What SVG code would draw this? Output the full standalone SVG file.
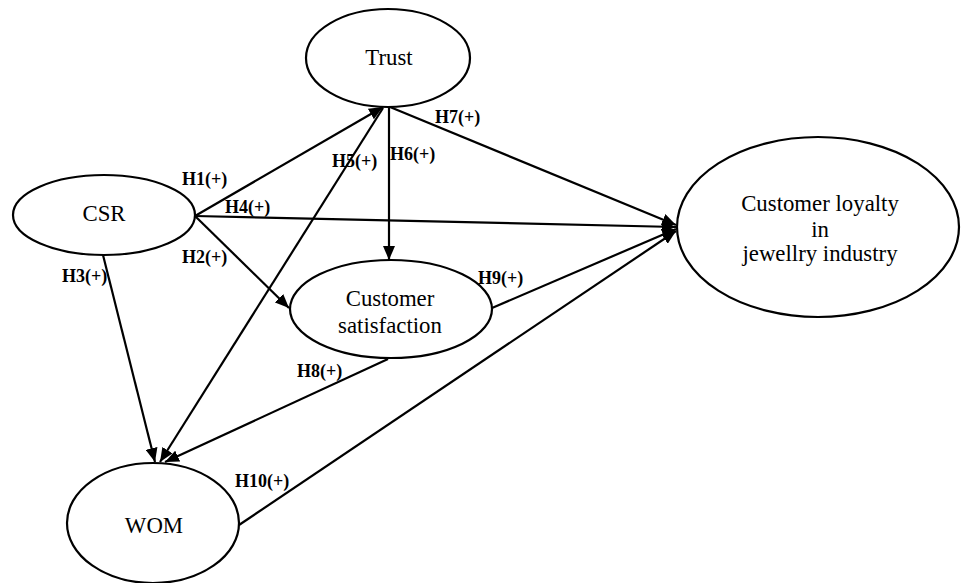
<svg xmlns="http://www.w3.org/2000/svg" width="962" height="583" viewBox="0 0 962 583">
<style>
.node{fill:#fff;stroke:#000;stroke-width:2.2}
.nt{font-family:"Liberation Serif","Times New Roman",serif;font-size:22.8px;fill:#000;text-anchor:middle}
.edge{stroke:#000;stroke-width:2.2;fill:none}
.lbl{font-family:"Liberation Serif","Times New Roman",serif;font-size:18px;font-weight:bold;fill:#000}
</style>
<defs>
<marker id="ah" markerUnits="userSpaceOnUse" markerWidth="15" markerHeight="12" refX="14" refY="6" orient="auto">
<path d="M0,0 L14,6 L0,12 z" fill="#000"/>
</marker>
</defs>
<g id="connectors">
<line class="edge" x1="195" y1="216" x2="383" y2="107" marker-end="url(#ah)"/>
<line class="edge" x1="195" y1="216" x2="676" y2="227" marker-end="url(#ah)"/>
<line class="edge" x1="195" y1="216" x2="289" y2="308" marker-end="url(#ah)"/>
<line class="edge" x1="103" y1="255" x2="155" y2="462" marker-end="url(#ah)"/>
<line class="edge" x1="383" y1="108" x2="160" y2="462" marker-end="url(#ah)"/>
<line class="edge" x1="389" y1="107" x2="389" y2="260" marker-end="url(#ah)"/>
<line class="edge" x1="390" y1="107" x2="676" y2="225" marker-end="url(#ah)"/>
<line class="edge" x1="388" y1="359" x2="165" y2="462" marker-end="url(#ah)"/>
<line class="edge" x1="492" y1="308" x2="676" y2="229" marker-end="url(#ah)"/>
<line class="edge" x1="239" y1="525" x2="676" y2="231" marker-end="url(#ah)"/>
<text class="lbl" x="182" y="185">H1(+)</text>
<text class="lbl" x="225" y="213">H4(+)</text>
<text class="lbl" x="182" y="263">H2(+)</text>
<text class="lbl" x="62" y="282">H3(+)</text>
<text class="lbl" x="332" y="167">H5(+)</text>
<text class="lbl" x="390" y="160">H6(+)</text>
<text class="lbl" x="435" y="123">H7(+)</text>
<text class="lbl" x="297" y="377">H8(+)</text>
<text class="lbl" x="478" y="284">H9(+)</text>
<text class="lbl" x="235" y="487">H10(+)</text>
</g>
<g id="trust">
<ellipse class="node" cx="388" cy="58" rx="82" ry="49"/>
<text class="nt" x="389" y="65">Trust</text>
</g>
<g id="csr">
<ellipse class="node" cx="104" cy="215" rx="91" ry="40"/>
<text class="nt" x="104" y="221">CSR</text>
</g>
<g id="satisfaction">
<ellipse class="node" cx="391" cy="309" rx="101" ry="49"/>
<text class="nt" x="390" y="306">Customer</text>
<text class="nt" x="390" y="333">satisfaction</text>
</g>
<g id="wom">
<ellipse class="node" cx="153" cy="523" rx="86" ry="60"/>
<text class="nt" x="154" y="533">WOM</text>
</g>
<g id="loyalty">
<ellipse class="node" cx="818" cy="227" rx="141" ry="90"/>
<text class="nt" x="820" y="211">Customer loyalty</text>
<text class="nt" x="820" y="237">in</text>
<text class="nt" x="820" y="261">jewellry industry</text>
</g>
</svg>
